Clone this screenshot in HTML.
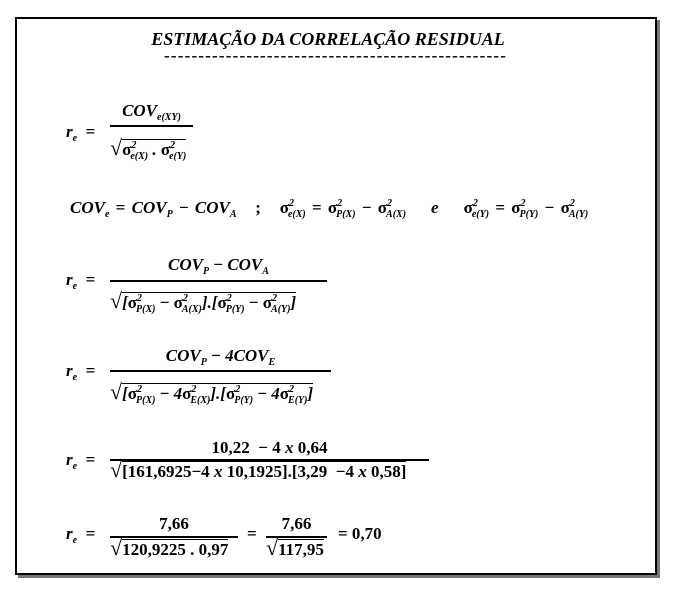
<!DOCTYPE html>
<html><head><meta charset="utf-8"><style>
body{margin:0;width:673px;height:593px;background:#fff;position:relative;overflow:hidden;font-family:"Liberation Serif",serif;font-weight:bold;font-style:italic;color:#000}
.box{position:absolute;left:15px;top:17px;width:638px;height:554px;border:2px solid #000;box-shadow:3px 3px 0 #777}
.t{position:absolute;white-space:nowrap;font-size:17px;line-height:20px}
.c{text-align:center}
.ln{position:absolute;height:1.5px;background:#000}
sub{font-size:10px;vertical-align:-4px}
sup{font-size:10px;vertical-align:7px}
.n{font-style:normal}
.up{font-style:normal}
.up i{font-style:italic}
.sq{font-style:normal;font-weight:normal;font-size:22px}
</style></head><body>
<div class="box"></div>
<div class="t" style="left:145px;top:29px;width:366px;text-align:center;font-size:18px">ESTIMAÇÃO DA CORRELAÇÃO RESIDUAL</div>
<div class="t n" style="left:164px;top:46px;width:342px;overflow:hidden;letter-spacing:1.2px">------------------------------------------------------</div>

<!-- 1 -->
<div class="t" style="left:66px;top:122px">r<sub>e</sub> <span class="n">&nbsp;=</span></div>
<div class="t c" style="left:110px;width:83px;top:101px">COV<sub>e(XY)</sub></div>
<div class="ln" style="left:110px;width:83px;top:125px"></div>
<div class="t" style="left:110px;top:136px"><span class="sq">√</span><span style="border-top:1.5px solid #000"><span class="n">σ</span><sup>2</sup><sub style="margin-left:-6px">e(X)</sub> . <span class="n">σ</span><sup>2</sup><sub style="margin-left:-6px">e(Y)</sub></span></div>

<!-- 2 -->
<div class="t" style="left:70px;top:194px;word-spacing:2px">COV<sub>e</sub> <span class="n">=</span> COV<sub>P</sub> <span class="n">−</span> COV<sub>A</sub> &nbsp; <span class="n">;</span> &nbsp; <span class="n">σ</span><sup>2</sup><sub style="margin-left:-6px">e(X)</sub> <span class="n">=</span> <span class="n">σ</span><sup>2</sup><sub style="margin-left:-6px">P(X)</sub> <span class="n">−</span> <span class="n">σ</span><sup>2</sup><sub style="margin-left:-6px">A(X)</sub> &nbsp;&nbsp; e &nbsp;&nbsp; <span class="n">σ</span><sup>2</sup><sub style="margin-left:-6px">e(Y)</sub> <span class="n">=</span> <span class="n">σ</span><sup>2</sup><sub style="margin-left:-6px">P(Y)</sub> <span class="n">−</span> <span class="n">σ</span><sup>2</sup><sub style="margin-left:-6px">A(Y)</sub></div>

<!-- 3 -->
<div class="t" style="left:66px;top:270px">r<sub>e</sub> <span class="n">&nbsp;=</span></div>
<div class="t c" style="left:110px;width:217px;top:255px">COV<sub>P</sub> <span class="n">−</span> COV<sub>A</sub></div>
<div class="ln" style="left:110px;width:217px;top:280px"></div>
<div class="t" style="left:110px;top:289px"><span class="sq">√</span><span style="border-top:1.5px solid #000">[<span class="n">σ</span><sup>2</sup><sub style="margin-left:-6px">P(X)</sub> <span class="n">−</span> <span class="n">σ</span><sup>2</sup><sub style="margin-left:-6px">A(X)</sub>].[<span class="n">σ</span><sup>2</sup><sub style="margin-left:-6px">P(Y)</sub> <span class="n">−</span> <span class="n">σ</span><sup>2</sup><sub style="margin-left:-6px">A(Y)</sub>]</span></div>

<!-- 4 -->
<div class="t" style="left:66px;top:361px">r<sub>e</sub> <span class="n">&nbsp;=</span></div>
<div class="t c" style="left:110px;width:221px;top:346px">COV<sub>P</sub> <span class="n">−</span> 4COV<sub>E</sub></div>
<div class="ln" style="left:110px;width:221px;top:370px"></div>
<div class="t" style="left:110px;top:380px"><span class="sq">√</span><span style="border-top:1.5px solid #000">[<span class="n">σ</span><sup>2</sup><sub style="margin-left:-6px">P(X)</sub> <span class="n">−</span> 4<span class="n">σ</span><sup>2</sup><sub style="margin-left:-6px">E(X)</sub>].[<span class="n">σ</span><sup>2</sup><sub style="margin-left:-6px">P(Y)</sub> <span class="n">−</span> 4<span class="n">σ</span><sup>2</sup><sub style="margin-left:-6px">E(Y)</sub>]</span></div>

<!-- 5 -->
<div class="t" style="left:66px;top:450px">r<sub>e</sub> <span class="n">&nbsp;=</span></div>
<div class="t c up" style="left:110px;width:319px;top:438px">10,22 &nbsp;− 4 <i>x</i> 0,64</div>
<div class="ln" style="left:110px;width:319px;top:459px"></div>
<div class="t up" style="left:110px;top:460px"><span class="sq">√</span><span style="border-top:1.5px solid #000">[161,6925−4 <i>x</i> 10,1925].[3,29 &nbsp;−4 <i>x</i> 0,58]</span></div>

<!-- 6 -->
<div class="t" style="left:66px;top:524px">r<sub>e</sub> <span class="n">&nbsp;=</span></div>
<div class="t c up" style="left:110px;width:128px;top:514px">7,66</div>
<div class="ln" style="left:110px;width:128px;top:536px"></div>
<div class="t up" style="left:110px;top:538px"><span class="sq">√</span><span style="border-top:1.5px solid #000">120,9225 . 0,97</span></div>
<div class="t n" style="left:247px;top:524px">=</div>
<div class="t c up" style="left:266px;width:61px;top:514px">7,66</div>
<div class="ln" style="left:266px;width:61px;top:536px"></div>
<div class="t up" style="left:266px;top:538px"><span class="sq">√</span><span style="border-top:1.5px solid #000">117,95</span></div>
<div class="t up" style="left:338px;top:524px">= 0,70</div>
</body></html>
